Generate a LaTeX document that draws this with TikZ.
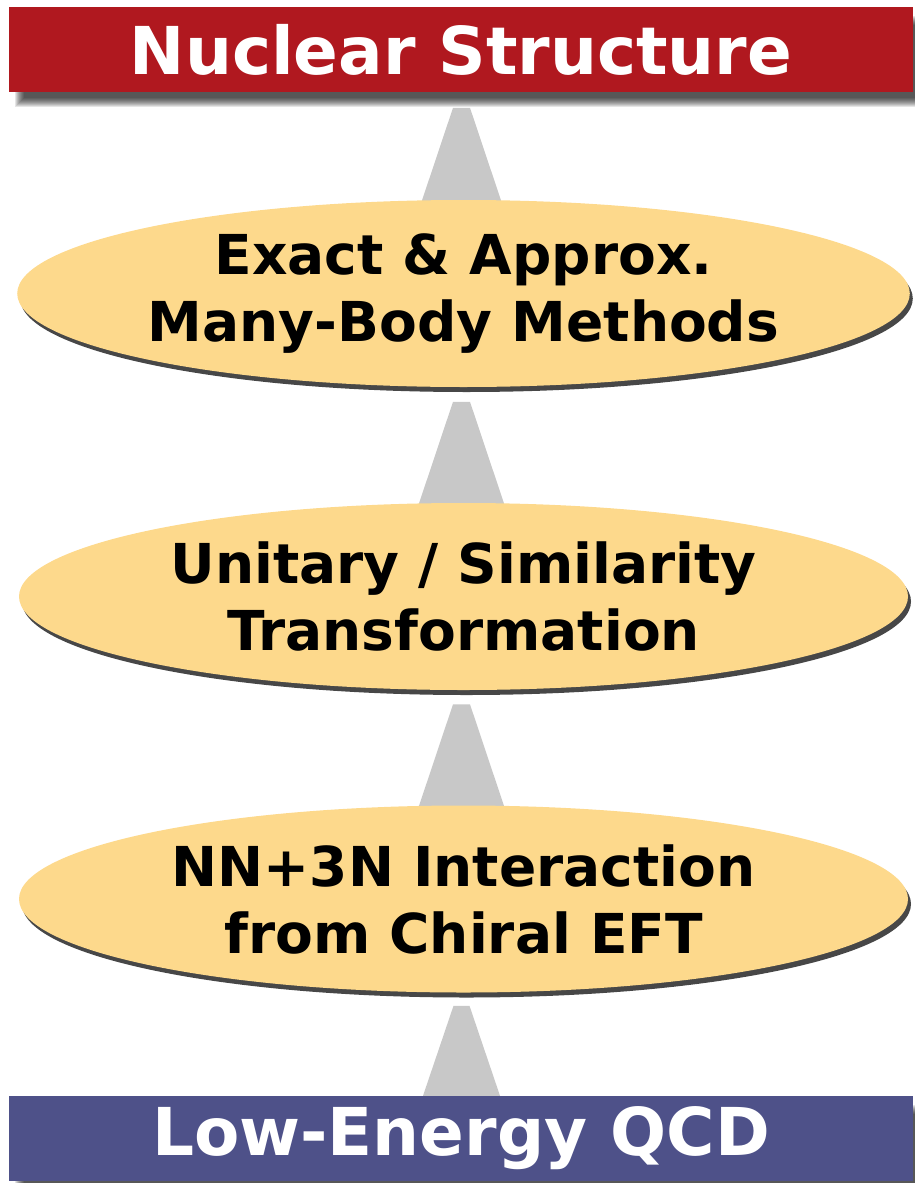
\documentclass[tikz,border=0pt]{standalone}
\usepackage{fontspec}
\setmainfont{DejaVu Sans}
\usetikzlibrary{shapes.geometric,calc,shadows}
\definecolor{nsred}{HTML}{B0181F}
\definecolor{qcdblue}{HTML}{4E5189}
\definecolor{ellfill}{HTML}{FDD98C}
\definecolor{trapgray}{HTML}{C8C8C8}
\pgfdeclarelayer{background}
\pgfsetlayers{background,main}
\tikzset{
  bandbox/.style={rectangle, minimum width=904pt, minimum height=85pt, inner sep=0pt,
    text=white, font=\bfseries\fontsize{66}{70}\selectfont},
  stage/.style={ellipse, fill=ellfill, minimum width=889pt, minimum height=187pt, inner sep=0pt,
    align=center, font=\bfseries\fontsize{55}{67}\selectfont,
    drop shadow={shadow xshift=3pt, shadow yshift=-5pt, fill=black!72, opacity=1}},
  trap/.style={fill=trapgray},
  softshadow/.style={fill=black, opacity=0.1}
}
\begin{document}
\begin{tikzpicture}[x=1pt,y=-1pt]
\useasboundingbox (0,0) rectangle (915,1183);
% soft shadows of bands
\foreach \d in {0,...,9}{
  \fill[softshadow] (15+\d,16+\d) rectangle (925-\d,107-\d);
  \fill[softshadow] (15+\d,1105+\d) rectangle (925-\d,1196-\d);
}
\node[bandbox, fill=nsred] (top) at (461,49.5) {Nuclear Structure};
\node[bandbox, fill=qcdblue] (qcd) at (461,1138.5) {Low-Energy QCD};
\node[stage] (e1) at (463.5,293.5) {Exact \& Approx.\\Many-Body Methods};
\node[stage] (e2) at (463.5,596.5) {Unitary / Similarity\\Transformation};
\node[stage] (e3) at (463.5,899) {NN+3N Interaction\\from Chiral EFT};
\begin{pgfonlayer}{background}
  \fill[trap] ($(e1.north)+(-10.5,-92)$) -- ($(e1.north)+(6.5,-92)$) -- ($(e1.north)+(44,20)$) -- ($(e1.north)+(-48,20)$) -- cycle;
  \fill[trap] ($(e2.north)+(-10.5,-101)$) -- ($(e2.north)+(6.5,-101)$) -- ($(e2.north)+(47,20)$) -- ($(e2.north)+(-51,20)$) -- cycle;
  \fill[trap] ($(e3.north)+(-10.5,-101)$) -- ($(e3.north)+(6.5,-101)$) -- ($(e3.north)+(47,20)$) -- ($(e3.north)+(-51,20)$) -- cycle;
  \fill[trap] ($(qcd.north)+(-7.5,-90)$) -- ($(qcd.north)+(8.5,-90)$) -- ($(qcd.north)+(39,0)$) -- ($(qcd.north)+(-38,0)$) -- cycle;
\end{pgfonlayer}
\end{tikzpicture}
\end{document}
